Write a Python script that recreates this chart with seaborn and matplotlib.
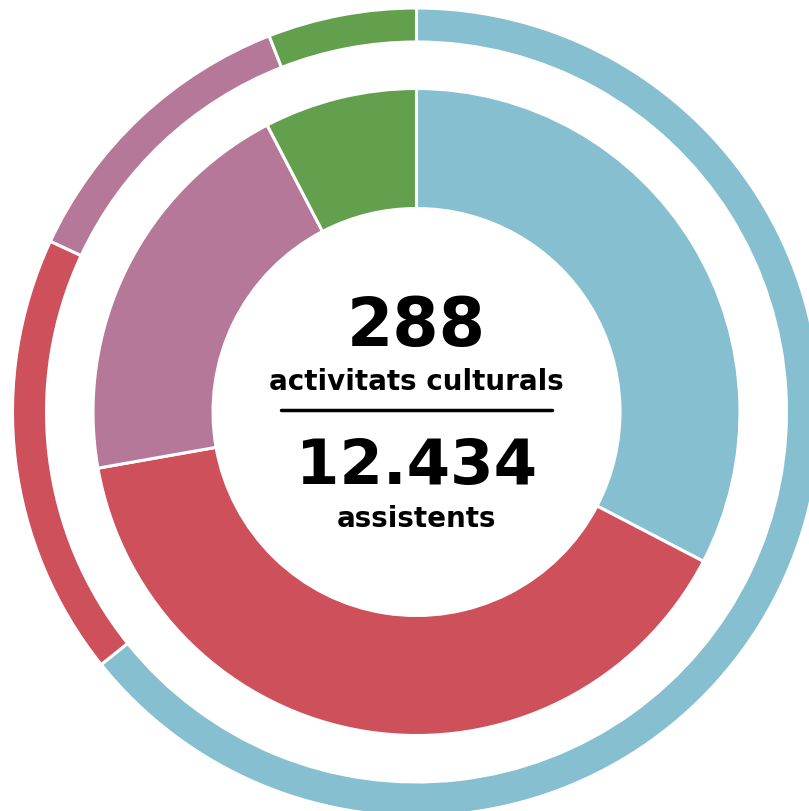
import matplotlib.pyplot as plt
import seaborn as sns

# categories (clockwise from top)
categories = ["Blau", "Vermell", "Rosa", "Verd"]
colors = ["#86c0d0", "#cd505a", "#b57898", "#62a04e"]

# inner ring: activitats culturals (288)
activitats = [94, 114, 58, 22]
# outer ring: assistents (12.434)
assistents = [7989, 2200, 1506, 739]

total_act = "288"
total_ass = "12.434"

sns.set_theme(style="white")
plt.rcParams["font.family"] = ["DejaVu Sans"]

fig = plt.figure(figsize=(8.09, 8.12), dpi=100)
ax = fig.add_axes([0, 0, 1, 1])

wedge = dict(edgecolor="white", linewidth=2.2)
ax.pie(assistents, colors=colors, radius=404, startangle=90, counterclock=False,
       wedgeprops=dict(width=34, **wedge), frame=True)
ax.pie(activitats, colors=colors, radius=323.5, startangle=90, counterclock=False,
       wedgeprops=dict(width=120, **wedge), frame=True)

txt = dict(ha="center", va="center", color="black", fontweight="bold")
ax.text(0, 86, total_act, fontsize=48, **txt)
ax.text(0, 31, "activitats culturals", fontsize=20, **txt)
ax.plot([-136, 136], [2, 2], color="black", lw=2.5)
ax.text(0, -54, total_ass, fontsize=45, **txt)
ax.text(0, -106, "assistents", fontsize=20, **txt)

ax.set_xlim(-416.5, 392.5)
ax.set_ylim(-399, 413)
ax.set_aspect("equal")
ax.axis("off")

fig.savefig("out.png", dpi=100)
